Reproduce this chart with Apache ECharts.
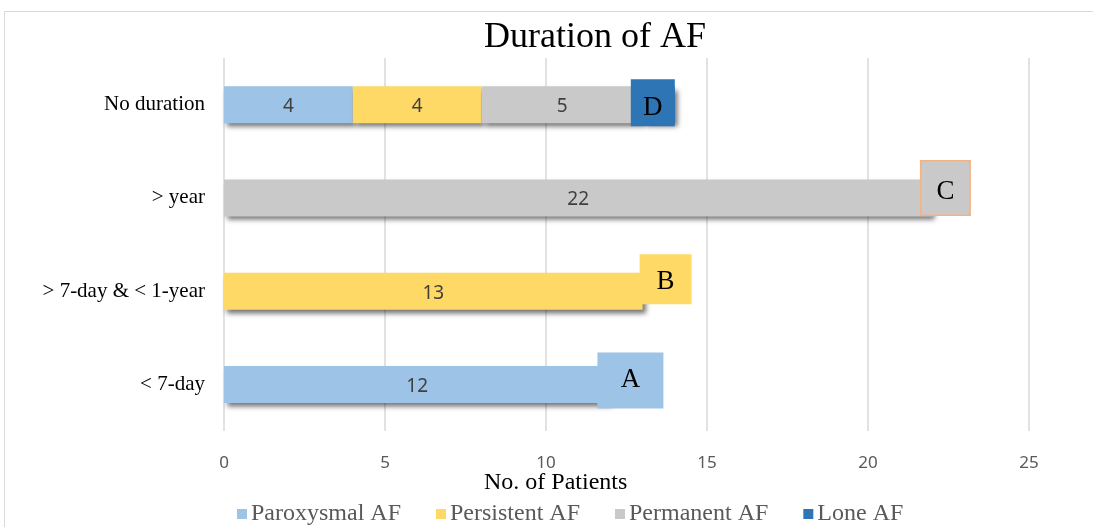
<!DOCTYPE html>
<html>
<head>
<meta charset="utf-8">
<script src="https://cdn.jsdelivr.net/npm/echarts@6/dist/echarts.min.js"></script>
<style>
    html, body {margin: 0; padding: 0; background: #fff;}
    #chart {width: 1093px; height: 527px;}
</style>
</head>
<body>
<div id="chart"></div>
<script>
// 数据
var categories = ['< 7-day', '> 7-day & < 1-year', '> year', 'No duration'];
var paroxysmal = [12, 0, 0, 4];
var persistent = [0, 13, 0, 4];
var permanent = [0, 0, 22, 5];
var lone = [0, 0, 0, 1];
var letters = ['A', 'B', 'C', 'D'];
var xTicks = [0, 5, 10, 15, 20, 25];

var SERIF = '"Liberation Serif", "Times New Roman", serif';
var SANS = '"Noto Sans", Calibri, sans-serif';

var colors = ['#9DC3E6', '#FFD966', '#C9C9C9', '#2E75B6'];

// 字母框的样式, 只是样式 (dy: 字母在框里往下挪一点)
var boxStyle = [
    {bg: colors[0], w: 66, h: 56, off: [20, -4], dy: 0, border: null},
    {bg: colors[1], w: 52, h: 50, off: [23, -12], dy: 3, border: null},
    {bg: colors[2], w: 50, h: 55, off: [13, -10], dy: 4, border: '#F4B183'},
    {bg: colors[3], w: 44, h: 47, off: [-22, -2], dy: 5, border: null}
];
var LETTER_SIZE = 27;

function segLabel(p) {
    return p.value ? String(p.value) : '';
}

function barSeries(name, data, color) {
    return {
        name: name,
        type: 'bar',
        stack: 'total',
        barWidth: 37,
        data: data,
        itemStyle: {
            color: color,
            shadowColor: 'rgba(0,0,0,0.55)',
            shadowBlur: 5,
            shadowOffsetX: 3,
            shadowOffsetY: 4
        },
        label: {
            show: true,
            position: 'inside',
            offset: [0, 2],
            formatter: segLabel,
            color: '#404040',
            fontFamily: SANS,
            fontSize: 19
        }
    };
}

// 框用 rich 里的一段文字画, 上下 padding 不一样让字母往下挪
var calloutData = letters.map(function(l, i) {
    var s = boxStyle[i];
    var b = s.border ? 1 : 0;
    var h = s.h - 2 * b;
    var pad = (h - LETTER_SIZE) / 2;
    return {
        value: 0,
        label: {
            show: true,
            position: 'inside',
            formatter: '{box|' + l + '}',
            offset: s.off,
            rich: {
                box: {
                    width: s.w - 2 * b,
                    height: LETTER_SIZE,
                    lineHeight: LETTER_SIZE,
                    padding: [pad + s.dy, 0, pad - s.dy, 0],
                    align: 'center',
                    backgroundColor: s.bg,
                    borderColor: s.border || 'transparent',
                    borderWidth: s.border ? 1.5 : 0,
                    color: '#000',
                    fontFamily: SERIF,
                    fontSize: LETTER_SIZE
                }
            }
        }
    };
});

var chart = echarts.init(document.getElementById('chart'));
chart.setOption({
    animation: false,
    backgroundColor: '#fff',
    graphic: [{
        type: 'rect',
        shape: {x: 4.5, y: 11.5, width: 1200, height: 600},
        style: {fill: 'none', stroke: '#D9D9D9', lineWidth: 1},
        silent: true,
        z: -1
    }],
    title: [{
        text: 'Duration of AF',
        left: 484,
        top: 20,
        padding: 0,
        textStyle: {fontFamily: SERIF, fontSize: 36, fontWeight: 'normal', color: '#000'}
    }, {
        text: 'No. of Patients',
        left: 484,
        top: 471,
        padding: 0,
        textStyle: {fontFamily: SERIF, fontSize: 24, fontWeight: 'normal', color: '#000'}
    }],
    legend: {
        data: ['Paroxysmal AF', 'Persistent AF', 'Permanent AF', 'Lone AF'],
        left: 232,
        top: 497,
        icon: 'rect',
        itemWidth: 10,
        itemHeight: 10,
        itemGap: 35,
        textStyle: {fontFamily: SERIF, fontSize: 24, color: '#595959', padding: [0, 0, 0, -1]}
    },
    grid: {left: 224, right: 64, top: 58, bottom: 96, containLabel: false},
    xAxis: {
        type: 'value',
        min: xTicks[0],
        max: xTicks[xTicks.length - 1],
        interval: xTicks[1] - xTicks[0],
        axisLine: {show: false},
        axisTick: {show: false},
        splitLine: {lineStyle: {color: '#D9D9D9', width: 1.5}},
        axisLabel: {color: '#595959', fontFamily: SANS, fontSize: 17, margin: 24}
    },
    yAxis: {
        type: 'category',
        data: categories,
        axisLine: {show: false},
        axisTick: {show: false},
        axisLabel: {color: '#000', fontFamily: SERIF, fontSize: 21, margin: 19}
    },
    series: [
        barSeries('Paroxysmal AF', paroxysmal, colors[0]),
        barSeries('Persistent AF', persistent, colors[1]),
        barSeries('Permanent AF', permanent, colors[2]),
        barSeries('Lone AF', lone, colors[3]),
        {
            name: 'callout',
            type: 'bar',
            stack: 'total',
            barWidth: 37,
            itemStyle: {color: 'transparent'},
            data: calloutData,
            z: 5
        }
    ]
});
</script>
</body>
</html>
